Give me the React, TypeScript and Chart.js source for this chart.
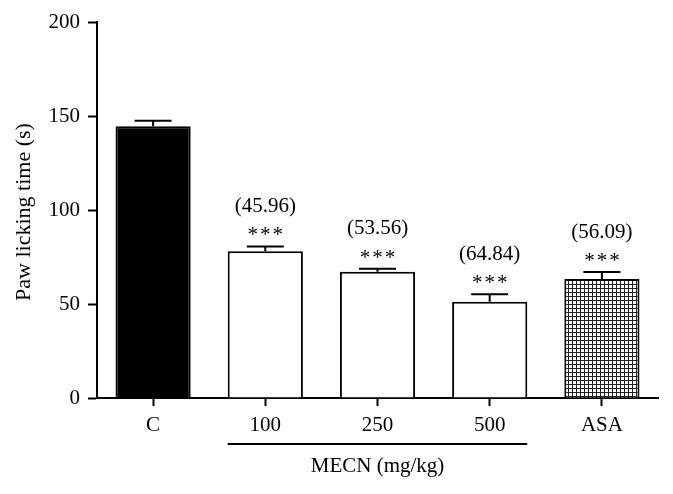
import React, { useEffect, useRef } from "react";
import { Chart, registerables } from "chart.js";

Chart.register(...registerables);

const categories = ["C", "100", "250", "500", "ASA"];
const means = [144.5, 78, 67.2, 51.2, 63.3];
const errors = [3, 2.6, 1.5, 4, 3.7];
const percentLabels = ["", "(45.96)", "(53.56)", "(64.84)", "(56.09)"];
const significance = ["", "***", "***", "***", "***"];
const yMin = 0;
const yMax = 200;
const yStep = 50;
const yTitle = "Paw licking time (s)";
const groupLabel = "MECN (mg/kg)";
const groupStart = 1;
const groupEnd = 3;

const FONT = "'Liberation Serif', 'Times New Roman', serif";

function makeGridPattern(): CanvasPattern | string {
  const c = document.createElement("canvas");
  c.width = 4;
  c.height = 4;
  const g = c.getContext("2d");
  if (!g) return "#ccc";
  g.fillStyle = "#fff";
  g.fillRect(0, 0, 4, 4);
  g.fillStyle = "#222";
  g.fillRect(0, 0, 4, 1);
  g.fillRect(0, 0, 1, 4);
  return g.createPattern(c, "repeat") || "#ccc";
}

const annotatePlugin = {
  id: "annotate",
  afterDatasetsDraw(chart: any) {
    const ctx = chart.ctx;
    const meta = chart.getDatasetMeta(0);
    const y = chart.scales.y;
    ctx.save();
    meta.data.forEach((bar: any, i: number) => {
      const x = bar.x;
      const top = y.getPixelForValue(means[i]);
      const cap = y.getPixelForValue(means[i] + errors[i]);
      ctx.strokeStyle = "#000";
      ctx.lineWidth = 2;
      ctx.beginPath();
      ctx.moveTo(x, top);
      ctx.lineTo(x, cap);
      ctx.moveTo(x - 18.5, cap);
      ctx.lineTo(x + 18.5, cap);
      ctx.stroke();

      ctx.fillStyle = "#000";
      ctx.textAlign = "center";
      ctx.textBaseline = "middle";
      ctx.font = `21px ${FONT}`;
      if (significance[i]) {
        const n = significance[i].length;
        for (let k = 0; k < n; k++) {
          ctx.fillText("*", x + (k - (n - 1) / 2) * 12.5, cap - 10.5);
        }
      }
      if (percentLabels[i]) {
        ctx.fillText(percentLabels[i], x, cap - 40);
      }
    });
    ctx.restore();
  },
  afterDraw(chart: any) {
    const ctx = chart.ctx;
    const meta = chart.getDatasetMeta(0);
    const b1 = meta.data[groupStart];
    const b2 = meta.data[groupEnd];
    ctx.save();
    ctx.strokeStyle = "#000";
    ctx.lineWidth = 2;
    const x1 = b1.x - b1.width / 2;
    const x2 = b2.x + b2.width / 2;
    ctx.beginPath();
    ctx.moveTo(x1, 444);
    ctx.lineTo(x2, 444);
    ctx.stroke();
    ctx.fillStyle = "#000";
    ctx.font = `21px ${FONT}`;
    ctx.textAlign = "center";
    ctx.textBaseline = "middle";
    ctx.fillText(groupLabel, (b1.x + b2.x) / 2, 466);

    const area = chart.chartArea;
    ctx.font = `22px ${FONT}`;
    ctx.translate(24, (area.top + area.bottom) / 2 + 2);
    ctx.rotate(-Math.PI / 2);
    ctx.fillText(yTitle, 0, 0);
    ctx.restore();
  },
};

export default function App() {
  const ref = useRef<HTMLCanvasElement>(null);
  useEffect(() => {
    if (!ref.current) return;
    const pattern = makeGridPattern();
    const chart = new Chart(ref.current, {
      type: "bar",
      data: {
        labels: categories,
        datasets: [
          {
            data: means,
            backgroundColor: ["#000", "#fff", "#fff", "#fff", pattern as any],
            borderColor: "#000",
            borderWidth: 2,
            categoryPercentage: 1,
            barPercentage: 0.67,
          },
        ],
      },
      options: {
        responsive: false,
        animation: false,
        layout: { padding: { top: 22, right: 15, left: 0, bottom: 0 } },
        plugins: {
          legend: { display: false },
          tooltip: { enabled: false },
        },
        scales: {
          x: {
            grid: {
              offset: false,
              drawOnChartArea: false,
              drawTicks: true,
              tickLength: 8,
              tickWidth: 2,
              tickColor: "#000",
            },
            border: { display: true, color: "#000", width: 2 },
            ticks: {
              color: "#000",
              font: { family: FONT, size: 21 },
              padding: 7,
            },
            afterFit(scale: any) {
              scale.height = 96;
            },
          },
          y: {
            min: yMin,
            max: yMax,
            grid: {
              drawOnChartArea: false,
              drawTicks: true,
              tickLength: 9,
              tickWidth: 2,
              tickColor: "#000",
            },
            border: { display: true, color: "#000", width: 2 },
            ticks: {
              stepSize: yStep,
              color: "#000",
              font: { family: FONT, size: 21 },
              padding: 8,
            },
            afterFit(scale: any) {
              scale.width = 97;
            },
          },
        },
      },
      plugins: [annotatePlugin],
    });
    return () => chart.destroy();
  }, []);
  return (
    <canvas
      ref={ref}
      width={673}
      height={494}
      style={{ position: "absolute", left: 0, top: 0, width: 673, height: 494 }}
    />
  );
}
